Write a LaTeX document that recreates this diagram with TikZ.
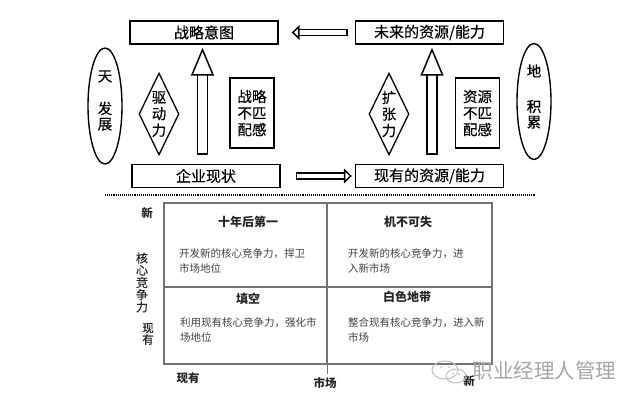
\documentclass[tikz,border=0pt]{standalone}
\usepackage{fontspec}
\setmainfont{Noto Sans CJK SC}
\newfontfamily\heavyfont[FakeBold=0.35]{Noto Sans CJK SC}
\usetikzlibrary{arrows.meta,shapes.geometric}
\tikzset{
  titlebox/.style={draw,line width=1.4pt,minimum width=148pt,minimum height=23pt,inner sep=0pt,font=\heavyfont\fontsize{15}{17}\selectfont},
  sidebox/.style={draw,line width=1.4pt,minimum width=44pt,minimum height=70pt,inner sep=0pt,align=center,font=\heavyfont\fontsize{14.5}{16.5}\selectfont},
  force/.style={draw,diamond,aspect=0.5,line width=1.3pt,minimum width=40pt,minimum height=82pt,inner sep=0pt,align=center,font=\heavyfont\fontsize{14.5}{16.5}\selectfont},
  oval/.style={draw,ellipse,line width=1.4pt,minimum width=34pt,minimum height=116pt,inner sep=0pt},
  ovaltext/.style={inner sep=0pt,align=center,font=\heavyfont\fontsize{14.5}{15.5}\selectfont},
  upblock/.style={draw=black,line width=1.5pt,line cap=rect,double=white,double distance=8.5pt,-{Triangle[length=28pt,width=23pt,fill=white,line width=1.5pt]}},
  sideblock/.style={draw=black,line width=1.5pt,line cap=rect,double=white,double distance=4.5pt,-{Triangle[length=8pt,width=15pt,fill=white,line width=1.5pt]}},
  cell/.style={draw=black!55,line width=1.2pt,inner sep=0pt},
  celltitle/.style={inner sep=0pt,font=\fontsize{12}{14}\selectfont\bfseries,text=black!85},
  celltext/.style={inner sep=0pt,anchor=west,align=left,text=black!75,font=\fontsize{10.5}{15}\selectfont},
  axistext/.style={inner sep=0pt,align=center,text=black!85,font=\fontsize{11.5}{12}\selectfont\bfseries},
  mark text/.style={inner sep=0pt,text=black!35,font=\fontsize{20.5}{22}\selectfont},
  bubble/.style={black!25,line width=1pt}
}
\begin{document}
\begin{tikzpicture}[x=1pt,y=-1pt]
  \useasboundingbox (0,0) rectangle (640,404);
  \node[titlebox] (intent) at (204,32.5) {战略意图};
  \node[titlebox] (current) at (206,176) {企业现状};
  \node[titlebox] (futureres) at (429.5,32.5) {未来的资源/能力};
  \node[titlebox] (nowres) at (429.5,176) {现有的资源/能力};

  \node[oval] (sky) at (105,106) {};
  \node[ovaltext] (skytext) at (105,100.5) {天\\[17pt]发\\展};
  \node[oval] (earth) at (534,101.5) {};
  \node[ovaltext] (earthtext) at (534,96.5) {地\\[20pt]积\\累};

  \node[force] (drive) at (159,114) {驱\\动\\力};
  \node[force] (expand) at (389,114) {扩\\张\\力};
  \node[sidebox] (stratgap) at (252,113) {战略\\不匹\\配感};
  \node[sidebox] (resgap) at (477.5,113) {资源\\不匹\\配感};

  \draw[upblock,shorten <=15pt,shorten >=3pt] ([xshift=-3.5pt]current.north) -- ([xshift=-3.5pt]current.north |- intent.south);
  \draw[upblock,shorten <=15pt,shorten >=3pt] ([xshift=2.5pt]nowres.north) -- ([xshift=2.5pt]futureres.south);
  \draw[sideblock,shorten <=11pt,shorten >=13pt] (futureres.west) -- (intent.east);
  \draw[sideblock,shorten <=19pt,shorten >=3pt] (current.east) -- (nowres.west);

  \coordinate (dotleft) at (105,195);
  \coordinate (dotright) at (535,195);
  \draw[line width=1.1pt,densely dotted] (dotleft) -- (dotright);

  \node[cell,minimum width=163pt,minimum height=84pt] (topleft) at (245.5,245) {};
  \node[cell,minimum width=165pt,minimum height=84pt] (topright) at (409.5,245) {};
  \node[cell,minimum width=163pt,minimum height=77pt] (lowleft) at (245.5,325.5) {};
  \node[cell,minimum width=165pt,minimum height=77pt] (lowright) at (409.5,325.5) {};

  \node[celltitle] (tenyear) at (248,222) {十年后第一};
  \node[celltext] (tenyeartext) at (179,260.5) {开发新的核心竞争力，捍卫\\市场地位};
  \node[celltitle] (chance) at (408,222) {机不可失};
  \node[celltext] (chancetext) at (348,260.5) {开发新的核心竞争力，进\\入新市场};
  \node[celltitle] (fill) at (248,299) {填空};
  \node[celltext] (filltext) at (180,329.5) {利用现有核心竞争力，强化市\\场地位};
  \node[celltitle] (white) at (407,297) {白色地带};
  \node[celltext] (whitetext) at (348,329.5) {整合现有核心竞争力，进入新\\市场};

  \node[axistext] (ynew) at (147,213) {新};
  \node[axistext,font=\heavyfont\fontsize{12}{12.2}\selectfont] (yname) at (142,282.5) {核\\心\\竞\\争\\力};
  \node[axistext,font=\heavyfont\fontsize{11.5}{10.5}\selectfont] (ynow) at (148,334) {现\\有};
  \node[axistext] (xnow) at (188,378) {现有};
  \node[axistext] (xname) at (325,383) {市场};
  \node[axistext] (xnew) at (469,381) {新};
  \draw[draw=black!55,line width=1pt,shorten >=3pt] (lowleft.south east) -- (lowleft.south east |- xname.north);

  \node[mark text] (marktext) at (544.5,371) {职业经理人管理};
  \draw[bubble] (445,370) ellipse (13pt and 9pt);
  \draw[bubble] (456,376) ellipse (10pt and 7pt);
  \fill[black!25] (441,367) circle (1pt) (449,367) circle (1pt) (453,374) circle (1pt) (459,374) circle (1pt);
\end{tikzpicture}
\end{document}
